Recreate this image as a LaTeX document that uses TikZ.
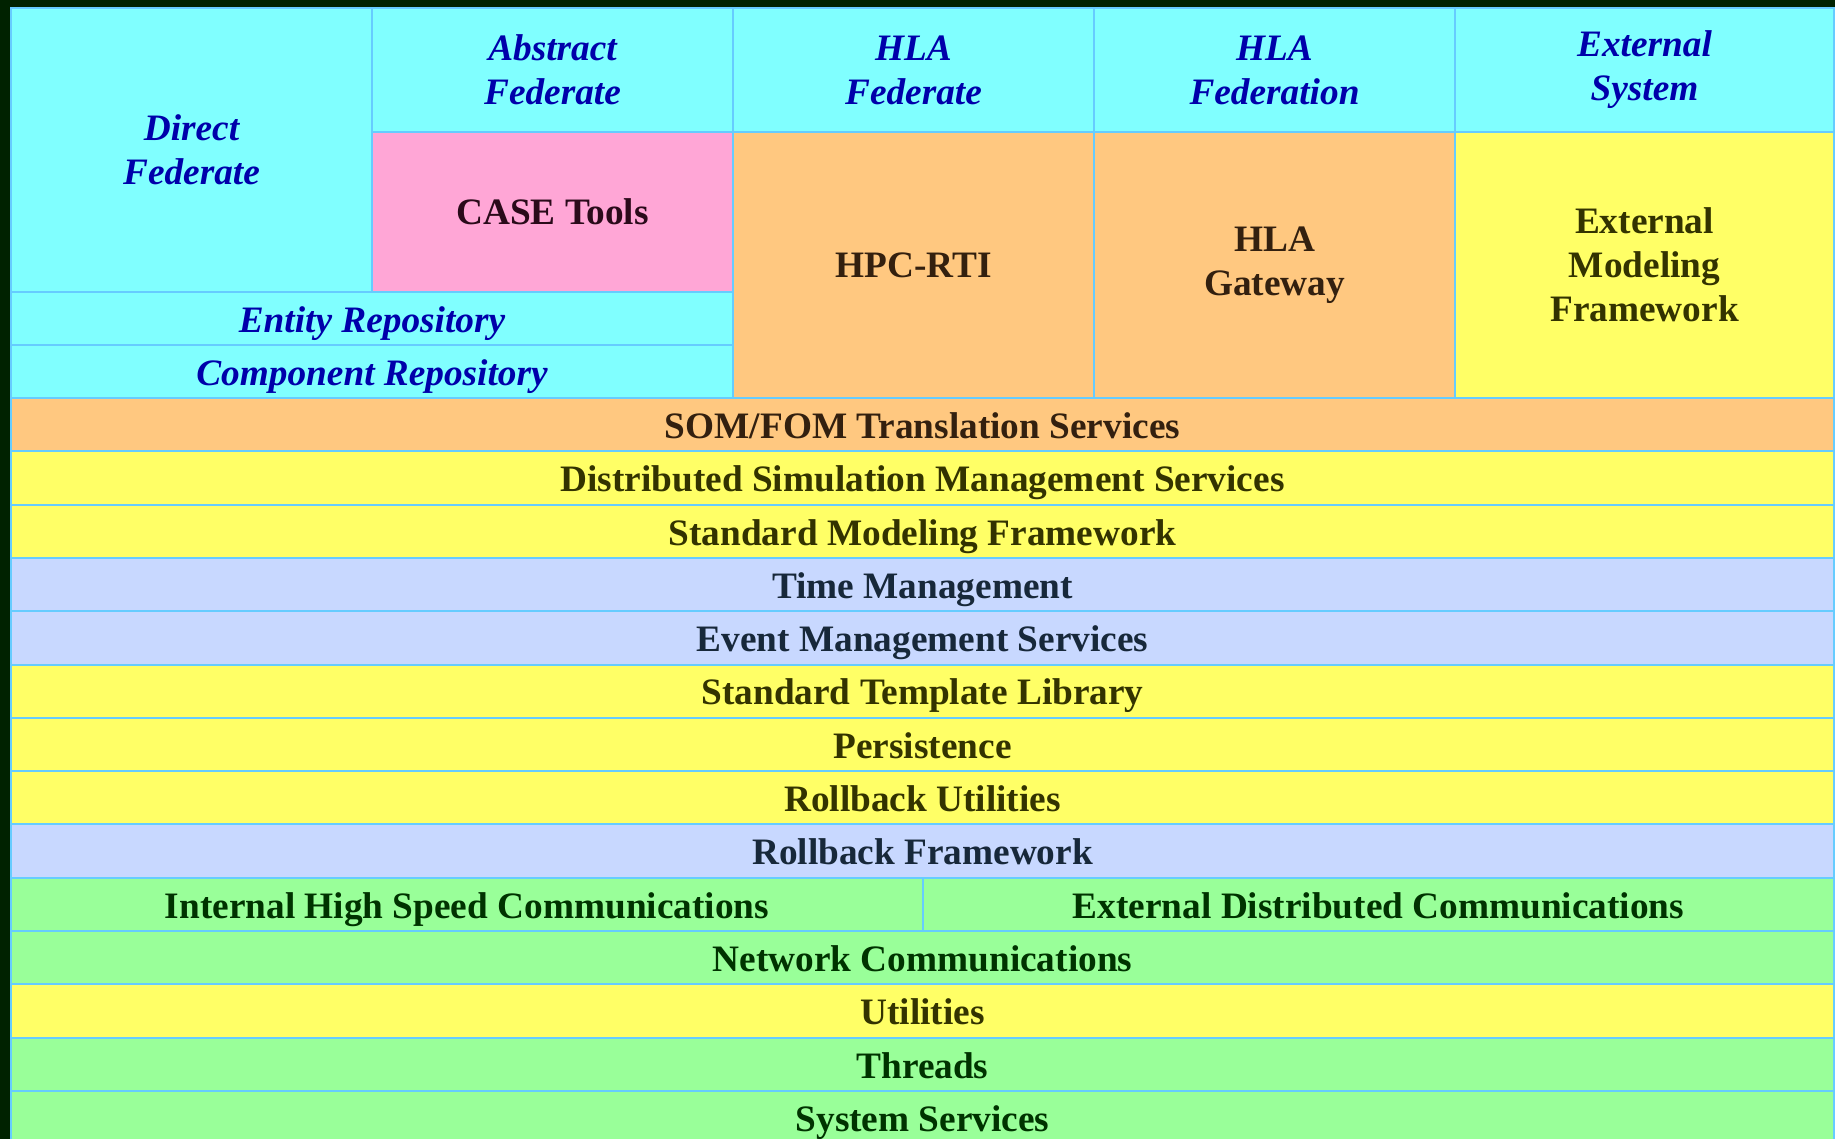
\documentclass[tikz,border=0pt]{standalone}
\usepackage{fontspec}
\setmainfont{Liberation Serif}

\definecolor{bgdark}{HTML}{002200}
\definecolor{cellline}{HTML}{66CCFF}
\definecolor{cyanbg}{HTML}{80FFFF}
\definecolor{pinkbg}{HTML}{FFA6D6}
\definecolor{orangebg}{HTML}{FFC880}
\definecolor{yellowbg}{HTML}{FFFF66}
\definecolor{lavenderbg}{HTML}{C8D8FF}
\definecolor{greenbg}{HTML}{99FF99}
\definecolor{headblue}{HTML}{0000AA}
\definecolor{browntext}{HTML}{33200F}
\definecolor{olivetext}{HTML}{333300}
\definecolor{navytext}{HTML}{17283A}
\definecolor{greentext}{HTML}{003300}
\definecolor{pinktext}{HTML}{2A0A1A}

\tikzstyle{cell}=[draw=cellline,line width=2pt,inner sep=0pt,align=center,font=\fontsize{37.3}{44}\selectfont\bfseries]
\tikzstyle{head}=[cell,fill=cyanbg,text=headblue,font=\fontsize{37.3}{44}\selectfont\bfseries\itshape]
\tikzstyle{band}=[cell,minimum width=1823pt,minimum height=53.3pt,text height=27.5pt,text depth=0pt]
\tikzstyle{halfband}=[band,minimum width=911.5pt]

\begin{document}
\begin{tikzpicture}[x=1pt,y=-1pt]
	\useasboundingbox (0,0) rectangle (1835,1139);
	\fill[bgdark] (0,0) rectangle (1835,1139);

	% top block
	\node [head,minimum width=361pt,minimum height=284pt] (direct)   at (191.5,150) {Direct\\Federate};
	\node [head,minimum width=361pt,minimum height=124pt] (abstract) at (552.5,70)  {Abstract\\Federate};
	\node [head,minimum width=361pt,minimum height=124pt] (hlafed)   at (913.5,70)  {HLA\\Federate};
	\node [head,minimum width=361pt,minimum height=124pt] (hlafedn)  at (1274.5,70) {HLA\\Federation};
	\node [head,minimum width=379pt,minimum height=124pt] (extsys)   at (1644.5,70) {External\\System};
	\node [cell,fill=pinkbg,text=pinktext,minimum width=361pt,minimum height=160pt] (case) at (552.5,212) {CASE Tools};
	\node [cell,fill=orangebg,text=browntext,minimum width=361pt,minimum height=266pt] (hpcrti)  at (913.5,265)  {HPC-RTI};
	\node [cell,fill=orangebg,text=browntext,minimum width=361pt,minimum height=266pt] (gateway) at (1274.5,265) {HLA\\Gateway};
	\node [cell,fill=yellowbg,text=olivetext,minimum width=379pt,minimum height=266pt] (extmod) at (1644.5,265) {External\\Modeling\\Framework};
	\node [head,minimum width=722pt,minimum height=53pt,text height=27.5pt,text depth=0pt] (entity)    at (372,318.5) {Entity Repository};
	\node [head,minimum width=722pt,minimum height=53pt,text height=27.5pt,text depth=0pt] (component) at (372,371.5) {Component Repository};

	% layers
	\node [band,fill=orangebg,text=browntext]   (som)      at (922.5,424.7)  {SOM/FOM Translation Services};
	\node [band,fill=yellowbg,text=olivetext]   (dsms)     at (922.5,478.0)  {Distributed Simulation Management Services};
	\node [band,fill=yellowbg,text=olivetext]   (smf)      at (922.5,531.3)  {Standard Modeling Framework};
	\node [band,fill=lavenderbg,text=navytext]  (time)     at (922.5,584.6)  {Time Management};
	\node [band,fill=lavenderbg,text=navytext]  (event)    at (922.5,637.9)  {Event Management Services};
	\node [band,fill=yellowbg,text=olivetext]   (stl)      at (922.5,691.2)  {Standard Template Library};
	\node [band,fill=yellowbg,text=olivetext]   (persist)  at (922.5,744.5)  {Persistence};
	\node [band,fill=yellowbg,text=olivetext]   (rbutil)   at (922.5,797.8)  {Rollback Utilities};
	\node [band,fill=lavenderbg,text=navytext]  (rbframe)  at (922.5,851.1)  {Rollback Framework};
	\node [halfband,fill=greenbg,text=greentext] (internal) at (467,904.4)    {Internal High Speed Communications};
	\node [halfband,fill=greenbg,text=greentext] (external) at (1378.5,904.4) {External Distributed Communications};
	\node [band,fill=greenbg,text=greentext]    (network)  at (922.5,957.7)  {Network Communications};
	\node [band,fill=yellowbg,text=olivetext]   (utils)    at (922.5,1011.0) {Utilities};
	\node [band,fill=greenbg,text=greentext]    (threads)  at (922.5,1064.3) {Threads};
	\node [band,fill=greenbg,text=greentext]    (syssrv)   at (922.5,1117.6) {System Services};
\end{tikzpicture}
\end{document}
